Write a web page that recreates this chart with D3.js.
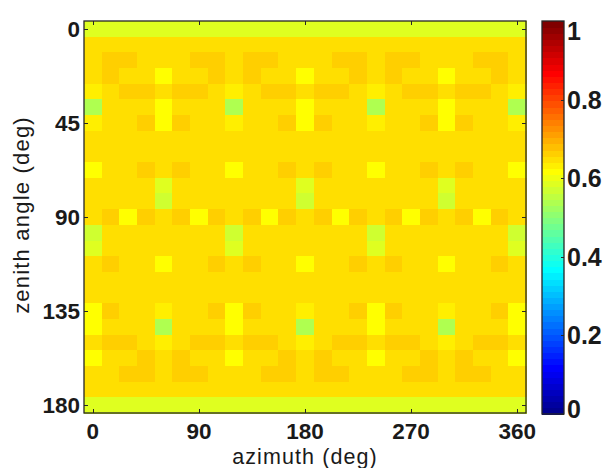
<!DOCTYPE html>
<html><head><meta charset="utf-8">
<script src="https://cdn.jsdelivr.net/npm/d3@7"></script>
<style>
html,body{margin:0;padding:0;background:#fff;}
svg{display:block;font-family:"Liberation Sans",Arial,Helvetica,sans-serif;}
</style></head>
<body>
<svg id="chart" width="607" height="468"></svg>
<script>
// azimuth (deg) cell centres
const azimuth = [0,15,30,45,60,75,90,105,120,135,150,165,180,195,210,225,240,255,270,285,300,315,330,345,360];
// zenith angle (deg) cell centres
const zenith = [0,7.5,15,22.5,30,37.5,45,52.5,60,67.5,75,82.5,90,97.5,105,112.5,120,127.5,135,142.5,150,157.5,165,172.5,180];
// cell values, one row per zenith angle, one column per azimuth
const values = [
[.585,.585,.585,.585,.585,.585,.585,.585,.585,.585,.585,.585,.585,.585,.585,.585,.585,.585,.585,.585,.585,.585,.585,.585,.585],
[.65,.65,.65,.65,.65,.65,.65,.65,.65,.65,.65,.65,.65,.65,.65,.65,.65,.65,.65,.65,.65,.65,.65,.65,.65],
[.65,.665,.665,.65,.65,.65,.665,.665,.65,.665,.665,.65,.65,.65,.665,.665,.65,.665,.665,.65,.65,.65,.665,.665,.65],
[.65,.665,.65,.65,.62,.65,.65,.665,.65,.665,.65,.65,.62,.65,.65,.665,.65,.665,.65,.65,.62,.65,.65,.665,.65],
[.635,.65,.665,.665,.65,.665,.665,.65,.635,.65,.665,.665,.65,.665,.665,.65,.635,.65,.665,.665,.65,.665,.665,.65,.635],
[.54,.65,.65,.65,.62,.65,.65,.65,.54,.65,.65,.65,.62,.65,.65,.65,.54,.65,.65,.65,.62,.65,.65,.65,.54],
[.635,.65,.65,.665,.62,.665,.65,.65,.635,.65,.65,.665,.62,.665,.65,.65,.635,.65,.65,.665,.62,.665,.65,.65,.635],
[.65,.65,.65,.65,.65,.65,.65,.65,.65,.65,.65,.65,.65,.65,.65,.65,.65,.65,.65,.65,.65,.65,.65,.65,.65],
[.65,.65,.65,.65,.65,.65,.65,.65,.65,.65,.65,.65,.65,.65,.65,.65,.65,.65,.65,.65,.65,.65,.65,.65,.65],
[.62,.65,.65,.665,.65,.665,.65,.65,.62,.65,.65,.665,.65,.665,.65,.65,.62,.65,.65,.665,.65,.665,.65,.65,.62],
[.65,.65,.65,.65,.585,.65,.65,.65,.65,.65,.65,.65,.585,.65,.65,.65,.65,.65,.65,.65,.585,.65,.65,.65,.65],
[.65,.65,.65,.65,.57,.65,.65,.65,.65,.65,.65,.65,.57,.65,.65,.65,.65,.65,.65,.65,.57,.65,.65,.65,.65],
[.65,.665,.62,.665,.65,.665,.62,.665,.65,.665,.62,.665,.65,.665,.62,.665,.65,.665,.62,.665,.65,.665,.62,.665,.65],
[.57,.65,.65,.65,.65,.65,.65,.65,.57,.65,.65,.65,.65,.65,.65,.65,.57,.65,.65,.65,.65,.65,.65,.65,.57],
[.585,.65,.65,.65,.65,.65,.65,.65,.585,.65,.65,.65,.65,.65,.65,.65,.585,.65,.65,.65,.65,.65,.65,.65,.585],
[.65,.665,.65,.65,.62,.65,.65,.665,.65,.665,.65,.65,.62,.65,.65,.665,.65,.665,.65,.65,.62,.65,.65,.665,.65],
[.65,.65,.65,.65,.65,.65,.65,.65,.65,.65,.65,.65,.65,.65,.65,.65,.65,.65,.65,.65,.65,.65,.65,.65,.65],
[.65,.65,.65,.65,.65,.65,.65,.65,.65,.65,.65,.65,.65,.65,.65,.65,.65,.65,.65,.65,.65,.65,.65,.65,.65],
[.62,.665,.65,.65,.635,.65,.65,.665,.62,.665,.65,.65,.635,.65,.65,.665,.62,.665,.65,.65,.635,.65,.65,.665,.62],
[.62,.65,.65,.65,.54,.65,.65,.65,.62,.65,.65,.65,.54,.65,.65,.65,.62,.65,.65,.65,.54,.65,.65,.65,.62],
[.65,.665,.665,.65,.635,.65,.665,.665,.65,.665,.665,.65,.635,.65,.665,.665,.65,.665,.665,.65,.635,.65,.665,.665,.65],
[.62,.65,.65,.665,.65,.665,.65,.65,.62,.65,.65,.665,.65,.665,.65,.65,.62,.65,.65,.665,.65,.665,.65,.65,.62],
[.65,.65,.665,.665,.65,.665,.665,.65,.65,.65,.665,.665,.65,.665,.665,.65,.65,.65,.665,.665,.65,.665,.665,.65,.65],
[.65,.65,.65,.65,.65,.65,.65,.65,.65,.65,.65,.65,.65,.65,.65,.65,.65,.65,.65,.65,.65,.65,.65,.65,.65],
[.585,.585,.585,.585,.585,.585,.585,.585,.585,.585,.585,.585,.585,.585,.585,.585,.585,.585,.585,.585,.585,.585,.585,.585,.585]
];
const xTicks = [0,90,180,270,360];
const yTicks = [0,45,90,135,180];
const cbTicks = [0,0.2,0.4,0.6,0.8,1];
const cbTickLabels = ["0","0.2","0.4","0.6","0.8","1"];

// MATLAB-style jet colormap with 64 levels
const NC = 64;
function jetTable(m){
  const n = Math.ceil(m/4);
  const u = [];
  for(let i=1;i<=n;i++) u.push(i/n);
  for(let i=1;i<n;i++) u.push(1);
  for(let i=n;i>=1;i--) u.push(i/n);
  const g0 = Math.ceil(n/2) - (m%4===1?1:0);
  const J = Array.from({length:m},()=>[0,0,0]);
  u.forEach((val,j)=>{
    const g = g0 + j + 1, r = g + n, b = g - n;
    if(g>=1 && g<=m) J[g-1][1]=val;
    if(r>=1 && r<=m) J[r-1][0]=val;
    if(b>=1 && b<=m) J[b-1][2]=val;
  });
  return J.map(c=>d3.rgb(Math.round(c[0]*255),Math.round(c[1]*255),Math.round(c[2]*255)).formatHex());
}
const jet = jetTable(NC);
const color = d3.scaleQuantize().domain([0,1]).range(jet);

const svg = d3.select("#chart");
const L=84, R=526, T=21, B=413;
const dx = azimuth[1]-azimuth[0], dy = zenith[1]-zenith[0];
const x = d3.scaleLinear().domain([azimuth[0]-dx/2, azimuth[azimuth.length-1]+dx/2]).range([L,R]);
const y = d3.scaleLinear().domain([zenith[0]-dy/2, zenith[zenith.length-1]+dy/2]).range([T,B]);

const cells = [];
values.forEach((row,i)=>row.forEach((v,j)=>cells.push({az:azimuth[j],ze:zenith[i],v})));
svg.append("g").selectAll("rect").data(cells).join("rect")
  .attr("x",d=>x(d.az-dx/2)).attr("y",d=>y(d.ze-dy/2))
  .attr("width",x(dx)-x(0)+0.5).attr("height",y(dy)-y(0)+0.5)
  .attr("fill",d=>color(d.v)).attr("shape-rendering","crispEdges");

const axCol="#262626";
const tl=4;
// ticks (inward on all four sides)
const tg = svg.append("g").attr("stroke",axCol).attr("stroke-width",1);
xTicks.forEach(t=>{
  const px=Math.round(x(t))+0.5;
  tg.append("line").attr("x1",px).attr("x2",px).attr("y1",B).attr("y2",B-tl);
  tg.append("line").attr("x1",px).attr("x2",px).attr("y1",T).attr("y2",T+tl);
});
yTicks.forEach(t=>{
  const py=Math.round(y(t))+0.5;
  tg.append("line").attr("x1",L).attr("x2",L+tl).attr("y1",py).attr("y2",py);
  tg.append("line").attr("x1",R).attr("x2",R-tl).attr("y1",py).attr("y2",py);
});
svg.append("rect").attr("x",L).attr("y",T).attr("width",R-L).attr("height",B-T)
  .attr("fill","none").attr("stroke",axCol).attr("stroke-width",1.3);

// tick labels
const lab = svg.append("g").attr("fill","#1a1a1a").attr("font-weight","bold").attr("font-size",22.5);
lab.selectAll("text.xt").data(xTicks).join("text").attr("class","xt")
  .attr("x",d=>x(d)).attr("y",439).attr("text-anchor","middle").text(d=>d);
lab.selectAll("text.yt").data(yTicks).join("text").attr("class","yt")
  .attr("x",80).attr("y",d=>y(d)+8.2).attr("text-anchor","end").text(d=>d);

// axis titles
svg.append("text").attr("x",305).attr("y",464).attr("text-anchor","middle")
  .attr("font-size",21.5).attr("letter-spacing",1.1).attr("fill","#1a1a1a").text("azimuth (deg)");
svg.append("text").attr("transform","translate(29,215) rotate(-90)").attr("text-anchor","middle")
  .attr("font-size",22).attr("letter-spacing",1.2).attr("fill","#1a1a1a").text("zenith angle (deg)");

// colorbar
const CL=542, CR=564;
const cy = d3.scaleLinear().domain([0,1]).range([B+1,T]);
svg.append("g").selectAll("rect").data(jet).join("rect")
  .attr("x",CL).attr("width",CR-CL)
  .attr("y",(d,i)=>cy((i+1)/NC)).attr("height",(d,i)=>cy(i/NC)-cy((i+1)/NC)+0.6)
  .attr("fill",d=>d).attr("shape-rendering","crispEdges");
const cg = svg.append("g").attr("stroke",axCol).attr("stroke-width",1);
cbTicks.forEach(t=>{
  const py=Math.round(cy(t))+0.5;
  cg.append("line").attr("x1",CR).attr("x2",CR-3).attr("y1",py).attr("y2",py);
});
svg.append("rect").attr("x",CL).attr("y",T).attr("width",CR-CL).attr("height",B+1-T)
  .attr("fill","none").attr("stroke",axCol).attr("stroke-width",1.3);
svg.append("g").attr("fill","#1a1a1a").attr("font-weight","bold").attr("font-size",25)
  .selectAll("text").data(cbTicks).join("text")
  .attr("x",567).attr("y",d=>Math.min(Math.max(cy(d)+9,40),418))
  .text((d,i)=>cbTickLabels[i]);
</script>
</body></html>
